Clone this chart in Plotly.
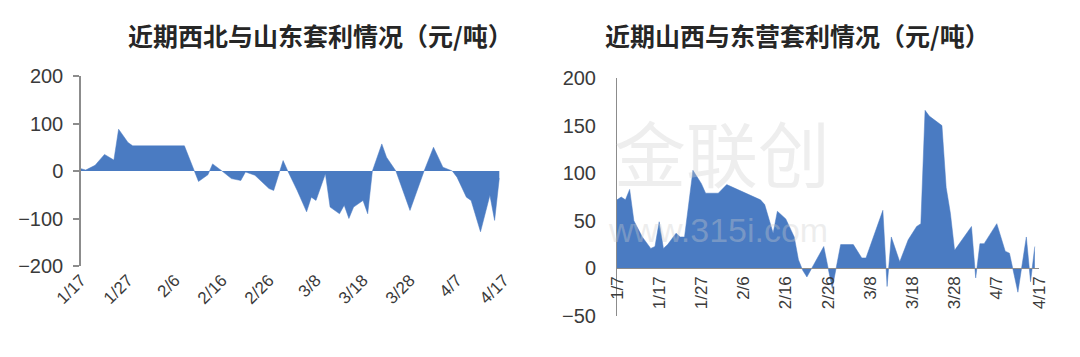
import plotly.graph_objects as go

# ---------------- data ----------------
left_dates = [
    "2018-01-17", "2018-01-18", "2018-01-20", "2018-01-22", "2018-01-24", "2018-01-25",
    "2018-01-27", "2018-01-28", "2018-02-08", "2018-02-10", "2018-02-11", "2018-02-13",
    "2018-02-14", "2018-02-16", "2018-02-18", "2018-02-20", "2018-02-21", "2018-02-23",
    "2018-02-26", "2018-02-27", "2018-03-01", "2018-03-02", "2018-03-04", "2018-03-06",
    "2018-03-07", "2018-03-08", "2018-03-10", "2018-03-11", "2018-03-13", "2018-03-14",
    "2018-03-15", "2018-03-16", "2018-03-18", "2018-03-19", "2018-03-20", "2018-03-22",
    "2018-03-23", "2018-03-25", "2018-03-26", "2018-03-28", "2018-03-31", "2018-04-02",
    "2018-04-04", "2018-04-06", "2018-04-07", "2018-04-09", "2018-04-10", "2018-04-12",
    "2018-04-14", "2018-04-15", "2018-04-16",
]
left_values = [
    5, 2, 12, 35, 23, 88,
    60, 53, 53, 0, -22, -8,
    15, 0, -16, -20, -2, -9,
    -37, -41, 22, 0, -41, -86,
    -55, -62, -6, -76, -90, -72,
    -100, -76, -62, -90, 0, 57,
    29, 0, -27, -83, 0, 50,
    8, 0, -13, -55, -62, -128,
    -51, -104, -15,
]

right_dates = [
    "2018-01-07", "2018-01-08", "2018-01-09", "2018-01-10", "2018-01-11", "2018-01-13",
    "2018-01-15", "2018-01-16", "2018-01-17", "2018-01-18", "2018-01-19", "2018-01-21",
    "2018-01-22", "2018-01-23", "2018-01-25", "2018-01-27", "2018-01-28", "2018-01-31",
    "2018-02-02", "2018-02-10", "2018-02-11", "2018-02-13", "2018-02-14", "2018-02-16",
    "2018-02-18", "2018-02-19", "2018-02-20", "2018-02-21", "2018-02-25", "2018-02-26",
    "2018-02-27", "2018-02-28", "2018-03-01", "2018-03-04", "2018-03-06", "2018-03-07",
    "2018-03-11", "2018-03-12", "2018-03-13", "2018-03-15", "2018-03-17", "2018-03-19",
    "2018-03-20", "2018-03-21", "2018-03-22", "2018-03-25", "2018-03-26", "2018-03-27",
    "2018-03-28", "2018-04-01", "2018-04-02", "2018-04-03", "2018-04-04", "2018-04-07",
    "2018-04-09", "2018-04-10", "2018-04-12", "2018-04-14", "2018-04-15", "2018-04-16",
]
right_values = [
    72, 75, 72, 83, 50, 33,
    21, 23, 49, 21, 25, 37,
    33, 33, 103, 89, 79, 79,
    88, 72, 67, 37, 60, 52,
    33, 9, -2, -9, 23, 2,
    -21, 2, 25, 25, 11, 11,
    61, -19, 33, 7, 30, 44,
    47, 166, 160, 150, 85, 58,
    19, 44, -10, 26, 26, 47,
    18, 16, -25, 33, -14, 23,
]

left_tick_dates = ["2018-01-17", "2018-01-27", "2018-02-06", "2018-02-16", "2018-02-26",
                   "2018-03-08", "2018-03-18", "2018-03-28", "2018-04-07", "2018-04-17"]
left_tick_text = ["1/17", "1/27", "2/6", "2/16", "2/26", "3/8", "3/18", "3/28", "4/7", "4/17"]
right_tick_dates = ["2018-01-07", "2018-01-17", "2018-01-27", "2018-02-06", "2018-02-16",
                    "2018-02-26", "2018-03-08", "2018-03-18", "2018-03-28", "2018-04-07",
                    "2018-04-17"]
right_tick_text = ["1/7", "1/17", "1/27", "2/6", "2/16", "2/26", "3/8", "3/18", "3/28",
                   "4/7", "4/17"]

left_title = "近期西北与山东套利情况（元/吨）"
right_title = "近期山西与东营套利情况（元/吨）"

# ---------------- styling ----------------
W, H = 1080, 357
FILL = "#4a7bc2"
AX = "#8c8c8c"
TXT = "#3a3a3a"
NUM_FONT = "Liberation Sans, Arial, sans-serif"
CJK = "Noto Sans CJK SC"


def px_x(p):
    return p / W


def px_y(p):
    return 1 - p / H


ly_dom = [px_y(266), px_y(76)]
ry_dom = [px_y(316), px_y(78)]
l_zero = ly_dom[0] + (ly_dom[1] - ly_dom[0]) * (0 - -200) / 400
r_zero = ry_dom[0] + (ry_dom[1] - ry_dom[0]) * (0 - -50) / 250

fig = go.Figure()
fig.add_trace(go.Scatter(x=left_dates, y=left_values, mode="lines", fill="tozeroy",
                         line=dict(color=FILL, width=0.5), fillcolor=FILL,
                         xaxis="x", yaxis="y", hoverinfo="skip", showlegend=False))
fig.add_trace(go.Scatter(x=right_dates, y=right_values, mode="lines", fill="tozeroy",
                         line=dict(color=FILL, width=0.5), fillcolor=FILL,
                         xaxis="x2", yaxis="y2", hoverinfo="skip", showlegend=False))

fig.update_layout(
    width=W, height=H,
    margin=dict(l=0, r=0, t=0, b=0, autoexpand=False),
    paper_bgcolor="white", plot_bgcolor="rgba(0,0,0,0)",
    font=dict(family=NUM_FONT, color=TXT),
    showlegend=False,
    xaxis=dict(domain=[px_x(81), px_x(504)], range=["2018-01-17", "2018-04-17"],
               anchor="y", showline=False, showgrid=False, zeroline=False, ticks="",
               tickmode="array", tickvals=left_tick_dates, ticktext=left_tick_text,
               tickangle=-45, tickfont=dict(size=17, color=TXT), automargin=False),
    xaxis3=dict(overlaying="x", matches="x", anchor="free", position=l_zero,
                showline=True, linecolor=AX, linewidth=1.5, showgrid=False, zeroline=False,
                ticks="outside", ticklen=6, tickcolor=AX, tickwidth=1.5,
                tickmode="array", tickvals=left_tick_dates, showticklabels=False,
                automargin=False),
    yaxis=dict(domain=ly_dom, range=[-200, 200], anchor="x", dtick=100,
               showline=True, linecolor=AX, linewidth=1.5, showgrid=False, zeroline=False,
               ticks="outside", ticklen=6, tickcolor=AX, tickwidth=1.5,
               ticklabelstandoff=6,
               tickfont=dict(size=20, color=TXT), automargin=False),
    xaxis2=dict(domain=[px_x(617), px_x(1039)], range=["2018-01-07", "2018-04-17"],
                anchor="free", position=r_zero, showline=True, linecolor=AX, linewidth=1,
                showgrid=False, zeroline=False, ticks="",
                tickmode="array", tickvals=right_tick_dates, ticktext=right_tick_text,
                tickangle=-90, tickfont=dict(size=17, color=TXT), automargin=False),
    yaxis2=dict(domain=ry_dom, range=[-50, 200], anchor="x2", dtick=50,
                showline=True, linecolor=AX, linewidth=1, showgrid=False, zeroline=False,
                ticks="", ticklabelstandoff=16,
                tickfont=dict(size=20, color=TXT), automargin=False),
)

fig.add_annotation(text="<b>" + left_title + "</b>", xref="paper", yref="paper",
                   x=px_x(320), y=px_y(35), xanchor="center", yanchor="middle",
                   showarrow=False, font=dict(family=CJK, size=25, color="#262626"))
fig.add_annotation(text="<b>" + right_title + "</b>", xref="paper", yref="paper",
                   x=px_x(797), y=px_y(35), xanchor="center", yanchor="middle",
                   showarrow=False, font=dict(family=CJK, size=25, color="#262626"))

# faint watermark (kept inside the right plot area, away from tick labels)
fig.add_annotation(text="金联创", xref="paper", yref="paper", x=px_x(722), y=px_y(150),
                   xanchor="center", yanchor="middle", showarrow=False,
                   font=dict(family=CJK, size=72, color="rgba(205,205,205,0.35)"))
fig.add_annotation(text="www.315i.com", xref="paper", yref="paper", x=px_x(718), y=px_y(230),
                   xanchor="center", yanchor="middle", showarrow=False,
                   font=dict(family=NUM_FONT, size=34, color="rgba(205,205,205,0.35)"))

fig.write_html("out.html")
